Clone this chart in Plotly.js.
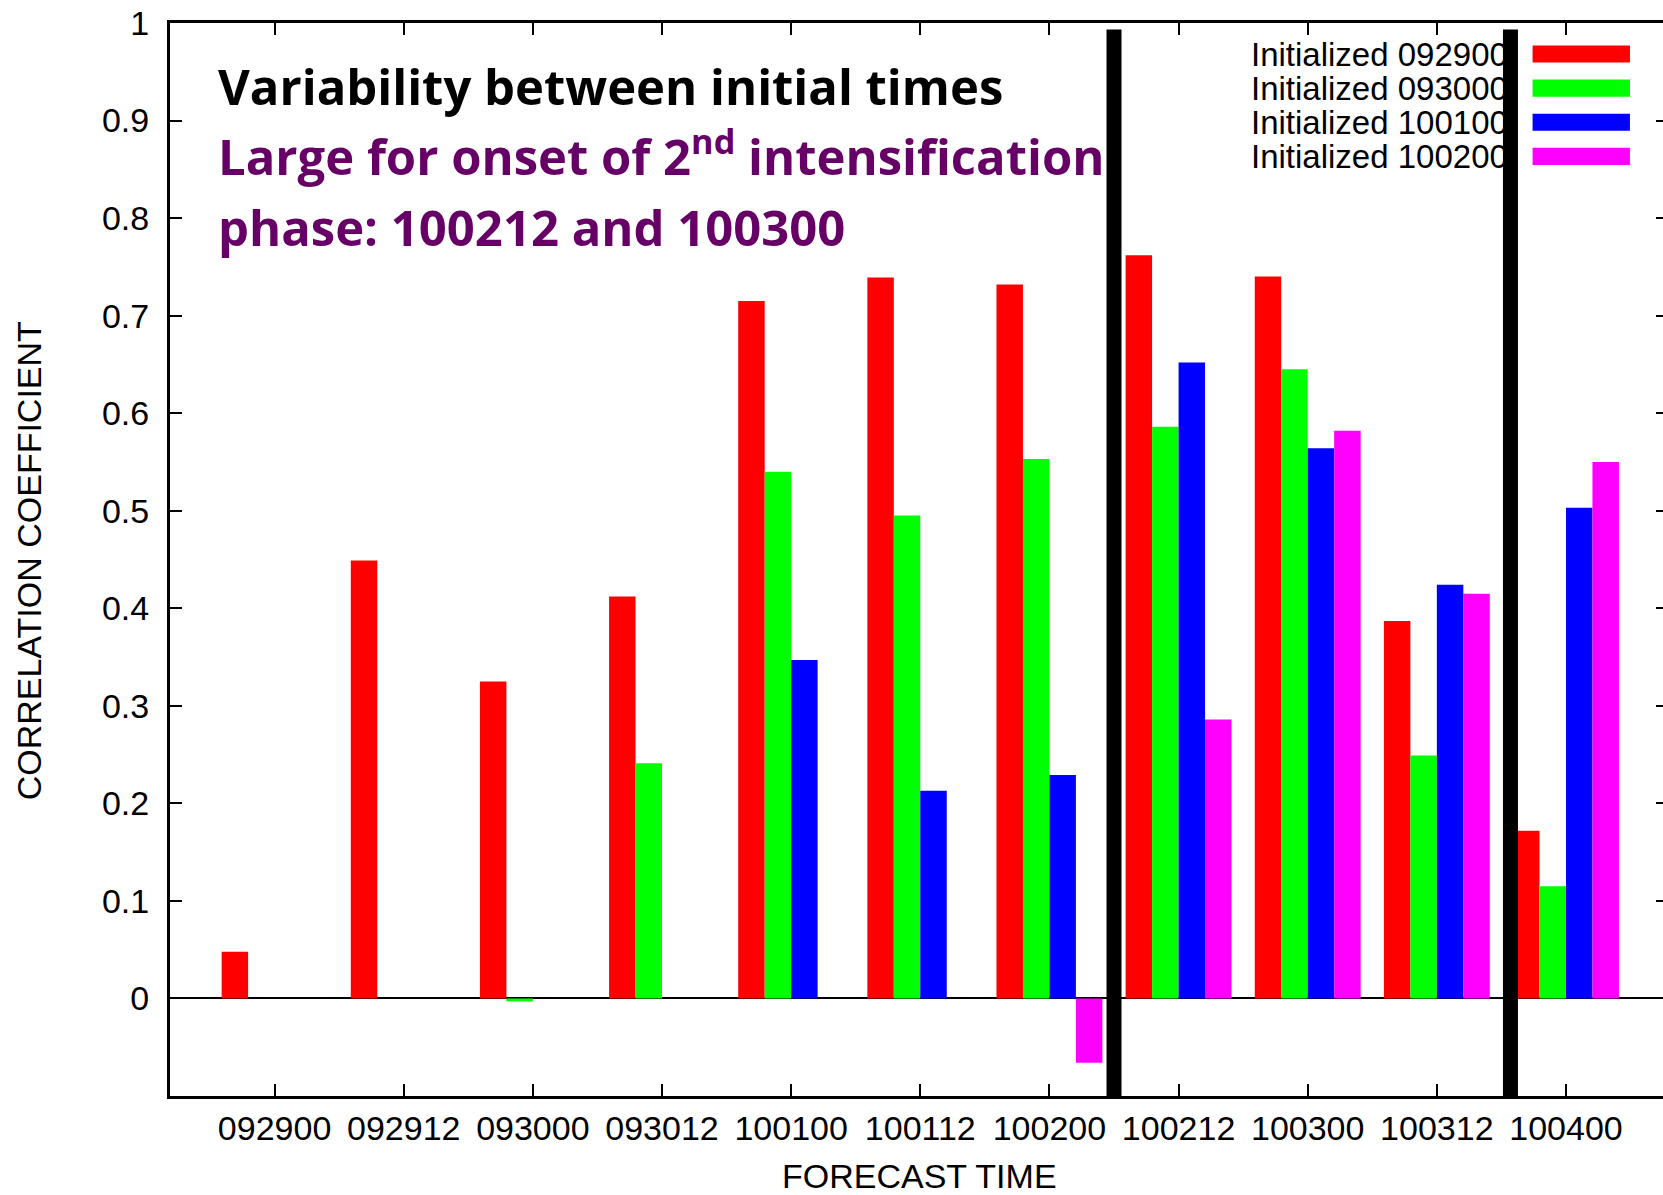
<!DOCTYPE html>
<html>
<head>
<meta charset="utf-8">
<script src="https://cdn.plot.ly/plotly-3.0.1.min.js"></script>
<style>
  html, body { margin: 0; padding: 0; background: #ffffff; overflow: hidden; }
  #chart { width: 1670px; height: 1195px; }
</style>
</head>
<body>
<div id="chart"></div>
<script>
// Forecast valid times (category axis)
const forecastTimes = ['092900', '092912', '093000', '093012', '100100', '100112',
                       '100200', '100212', '100300', '100312', '100400'];

// Correlation coefficient for each initialization time (null = no forecast)
const init092900 = [0.048, 0.449, 0.325, 0.412, 0.715, 0.739, 0.732, 0.762, 0.740, 0.387, 0.172];
const init093000 = [null, null, -0.003, 0.241, 0.540, 0.495, 0.553, 0.586, 0.645, 0.249, 0.115];
const init100100 = [null, null, null, null, 0.347, 0.213, 0.229, 0.652, 0.564, 0.424, 0.503];
const init100200 = [null, null, null, null, null, null, -0.066, 0.286, 0.582, 0.415, 0.550];

const seriesNames = ['Initialized 092900', 'Initialized 093000', 'Initialized 100100', 'Initialized 100200'];
const seriesValues = [init092900, init093000, init100100, init100200];
const seriesColors = ['#ff0000', '#00ff00', '#0000ff', '#ff00ff'];

// Phase separators (positions between forecast times)
const separatorPositions = [6.5, 9.57];

const yTickVals = [0, 0.1, 0.2, 0.3, 0.4, 0.5, 0.6, 0.7, 0.8, 0.9, 1];
const yTickText = ['0', '0.1', '0.2', '0.3', '0.4', '0.5', '0.6', '0.7', '0.8', '0.9', '1'];

const axisFont = { family: 'Liberation Sans, Arial, sans-serif', size: 34, color: '#000000' };

const traces = seriesValues.map((vals, i) => ({
  type: 'bar',
  name: seriesNames[i],
  x: forecastTimes,
  y: vals,
  marker: { color: seriesColors[i], line: { width: 0 } },
  hoverinfo: 'x+y+name'
}));

// Legend drawn in the top-right corner: label on the left, colour key on the right
const legendTop = 0.9711, legendStep = 0.0318, keyHalf = 0.0080;
const legendShapes = seriesNames.map((n, i) => ({
  type: 'rect', xref: 'paper', yref: 'paper',
  x0: 0.9096, x1: 0.9746,
  y0: legendTop - i * legendStep - keyHalf, y1: legendTop - i * legendStep + keyHalf,
  fillcolor: seriesColors[i], line: { width: 0 }, layer: 'above'
}));
const legendLabels = seriesNames.map((n, i) => ({
  xref: 'paper', yref: 'paper', x: 0.7203, y: legendTop - i * legendStep,
  xanchor: 'left', yanchor: 'middle', showarrow: false, text: n,
  font: { family: 'Liberation Sans, Arial, sans-serif', size: 33, color: '#000000' }
}));

const headingFont = { family: 'Open Sans, Noto Sans, sans-serif', size: 49, weight: 700 };
const headings = [
  { text: 'Variability between initial times', y: 0.9413, color: '#000000' },
  { text: 'Large for onset of 2<sup>nd</sup> intensification', y: 0.8785, color: '#660066' },
  { text: 'phase: 100212 and 100300', y: 0.8099, color: '#660066' }
].map(h => ({
  xref: 'paper', yref: 'paper', x: 0.031, y: h.y, xanchor: 'left', yanchor: 'middle',
  showarrow: false, text: h.text,
  font: Object.assign({}, headingFont, { color: h.color })
}));

const axisTitles = [
  { xref: 'paper', yref: 'paper', x: 0.5003, y: -0.0750, xanchor: 'center', yanchor: 'middle',
    showarrow: false, text: 'FORECAST TIME', font: axisFont },
  { xref: 'paper', yref: 'paper', x: -0.094, y: 0.4985, xanchor: 'center', yanchor: 'middle',
    textangle: -90, showarrow: false, text: 'CORRELATION COEFFICIENT', font: axisFont }
];

// Thick vertical separators, drawn as arrow annotations so they sit above the legend text
const separators = separatorPositions.map(p => ({
  xref: 'x', yref: 'y', axref: 'x', ayref: 'y',
  x: p, y: -0.1, ax: p, ay: 0.995,
  showarrow: true, arrowhead: 0, arrowwidth: 15, arrowcolor: '#000000',
  standoff: 0, startstandoff: 0, text: ''
}));

const layout = {
  width: 1670, height: 1195,
  margin: { l: 170, r: 2, t: 23, b: 99 },
  paper_bgcolor: '#ffffff', plot_bgcolor: '#ffffff',
  barmode: 'group', bargap: 0.18, bargroupgap: 0,
  showlegend: false,
  xaxis: {
    type: 'category', range: [-0.81, 10.79],
    showline: true, linewidth: 3, linecolor: '#000000', mirror: 'ticks',
    ticks: 'inside', ticklen: 12, tickwidth: 2, tickcolor: '#000000',
    tickfont: axisFont, ticklabelstandoff: 0,
    showgrid: false, zeroline: false, fixedrange: true
  },
  yaxis: {
    range: [-0.1, 1], tickvals: yTickVals, ticktext: yTickText,
    showline: true, linewidth: 3, linecolor: '#000000', mirror: 'ticks',
    ticks: 'inside', ticklen: 12, tickwidth: 2, tickcolor: '#000000',
    tickfont: axisFont, ticklabelstandoff: 11,
    showgrid: false, zeroline: true, zerolinecolor: '#000000', zerolinewidth: 2,
    fixedrange: true
  },
  shapes: legendShapes,
  annotations: [].concat(headings, axisTitles, legendLabels, separators)
};

Plotly.newPlot('chart', traces, layout, { displayModeBar: false, staticPlot: true });
</script>
</body>
</html>
